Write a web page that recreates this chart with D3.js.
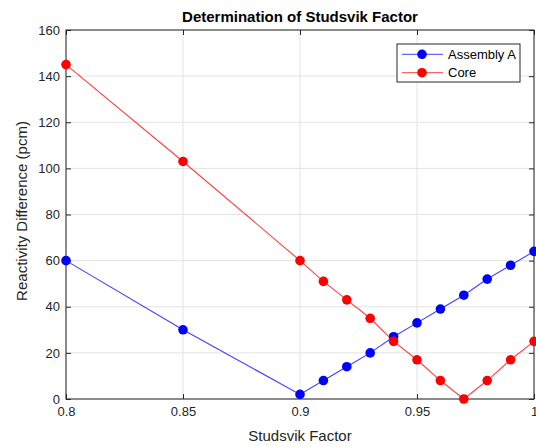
<!DOCTYPE html>
<html>
<head>
<meta charset="utf-8">
<script src="https://d3js.org/d3.v7.min.js"></script>
<style>
  body { margin: 0; background: #fff; }
  text { font-family: "Liberation Sans", Arial, Helvetica, sans-serif; }
  .tick text { fill: #262626; font-size: 13px; }
</style>
</head>
<body>
<svg width="536" height="447"></svg>
<script>
// data
var factors  = [0.8, 0.85, 0.9, 0.91, 0.92, 0.93, 0.94, 0.95, 0.96, 0.97, 0.98, 0.99, 1.0];
var assembly = [60, 30, 2, 8, 14, 20, 27, 33, 39, 45, 52, 58, 64];
var core     = [145, 103, 60, 51, 43, 35, 25, 17, 8, 0, 8, 17, 25];
var xTicks   = [0.8, 0.85, 0.9, 0.95, 1];
var yTicks   = [0, 20, 40, 60, 80, 100, 120, 140, 160];

var series = [
  {name: "Assembly A", values: assembly, color: "#0000ff"},
  {name: "Core", values: core, color: "#ff0000"}
];

var svg = d3.select("svg");
var pLeft = 66, pRight = 534, pTop = 30, pBottom = 399;
var width = pRight - pLeft, height = pBottom - pTop;

var x = d3.scaleLinear().domain([0.8, 1]).range([pLeft, pRight]);
var y = d3.scaleLinear().domain([0, 160]).range([pBottom, pTop]);

var fmt = function(d) { return String(+d.toFixed(2)); };

// grid
var grid = svg.append("g");
grid.selectAll(".gx").data(xTicks).enter().append("line")
  .attr("x1", function(d) { return x(d); }).attr("x2", function(d) { return x(d); })
  .attr("y1", pTop).attr("y2", pBottom)
  .attr("stroke", "#e3e3e3").attr("stroke-width", 1);
grid.selectAll(".gy").data(yTicks).enter().append("line")
  .attr("x1", pLeft).attr("x2", pRight)
  .attr("y1", function(d) { return y(d); }).attr("y2", function(d) { return y(d); })
  .attr("stroke", "#e3e3e3").attr("stroke-width", 1);

// axes, ticks pointing inward like matlab
var xAxis = d3.axisBottom(x).tickValues(xTicks).tickSize(-5).tickPadding(8).tickFormat(fmt);
var yAxis = d3.axisLeft(y).tickValues(yTicks).tickSize(-5).tickPadding(6);

function styleAxis(g) {
  g.select(".domain").remove();
  g.selectAll(".tick line").attr("stroke", "#262626");
}

svg.append("g").attr("transform", "translate(0," + pBottom + ")").call(xAxis).call(styleAxis);
svg.append("g").attr("transform", "translate(" + pLeft + ",0)").call(yAxis).call(styleAxis);
svg.append("g").attr("transform", "translate(0," + pTop + ")")
  .call(d3.axisTop(x).tickValues(xTicks).tickSize(-5).tickFormat(""))
  .call(styleAxis);
svg.append("g").attr("transform", "translate(" + pRight + ",0)")
  .call(d3.axisRight(y).tickValues(yTicks).tickSize(-5).tickFormat(""))
  .call(styleAxis);

svg.append("rect")
  .attr("x", pLeft).attr("y", pTop).attr("width", width).attr("height", height)
  .attr("fill", "none").attr("stroke", "#262626").attr("stroke-width", 1);

// lines and markers
var line = d3.line()
  .x(function(d, i) { return x(factors[i]); })
  .y(function(d) { return y(d); });

series.forEach(function(s) {
  svg.append("path")
    .datum(s.values)
    .attr("d", line)
    .attr("fill", "none")
    .attr("stroke", s.color)
    .attr("stroke-opacity", 0.75)
    .attr("stroke-width", 1.1);
  svg.append("g").selectAll("circle")
    .data(s.values)
    .enter().append("circle")
    .attr("cx", function(d, i) { return x(factors[i]); })
    .attr("cy", function(d) { return y(d); })
    .attr("r", 4.8)
    .attr("fill", s.color);
});

// title and labels
svg.append("text")
  .attr("x", (pLeft + pRight) / 2).attr("y", 22)
  .attr("text-anchor", "middle")
  .attr("font-size", 15).attr("font-weight", "bold").attr("fill", "#000")
  .text("Determination of Studsvik Factor");

svg.append("text")
  .attr("x", (pLeft + pRight) / 2).attr("y", 441)
  .attr("text-anchor", "middle")
  .attr("font-size", 15).attr("fill", "#262626")
  .text("Studsvik Factor");

svg.append("text")
  .attr("transform", "translate(27,211) rotate(-90)")
  .attr("text-anchor", "middle")
  .attr("font-size", 15).attr("fill", "#262626")
  .text("Reactivity Difference (pcm)");

// legend
var lg = svg.append("g").attr("transform", "translate(397,44)");
lg.append("rect").attr("width", 123).attr("height", 38)
  .attr("fill", "#fff").attr("stroke", "#262626").attr("stroke-width", 1);
series.forEach(function(s, i) {
  var cy = 10.3 + i * 18.4;
  lg.append("line").attr("x1", 5).attr("x2", 46).attr("y1", cy).attr("y2", cy)
    .attr("stroke", s.color).attr("stroke-opacity", 0.75);
  lg.append("circle").attr("cx", 25).attr("cy", cy).attr("r", 4.8).attr("fill", s.color);
  lg.append("text").attr("x", 51).attr("y", cy + 4.5)
    .attr("font-size", 13).attr("fill", "#000").text(s.name);
});
</script>
</body>
</html>
